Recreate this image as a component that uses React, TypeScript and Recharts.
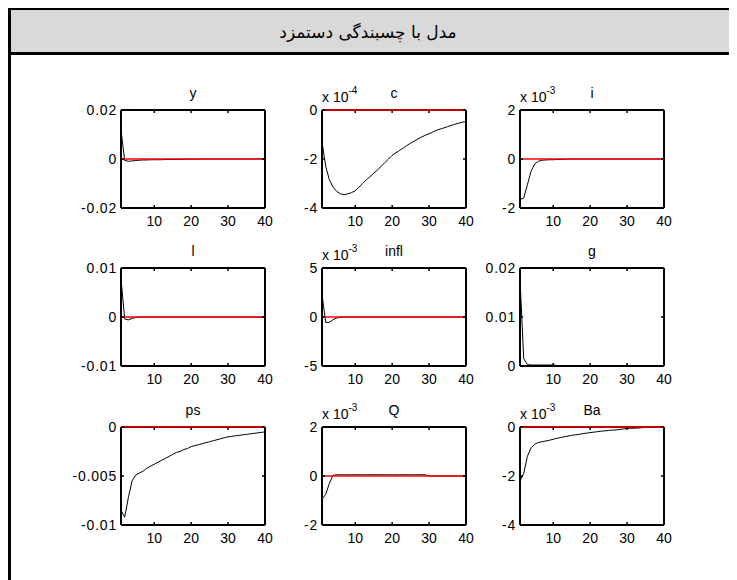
import { Line, LineChart, ReferenceLine, XAxis, YAxis } from "recharts";

const title = "مدل با چسبندگی دستمزد";

const periods = [
  1, 2, 3, 4, 5, 6, 7, 8, 9, 10, 11, 12, 13, 14, 15, 16, 17, 18, 19, 20,
  21, 22, 23, 24, 25, 26, 27, 28, 29, 30, 31, 32, 33, 34, 35, 36, 37, 38, 39, 40
];
const xTicks = [10, 20, 30, 40];

// impulse responses, one value per period
const yResp = [
  0.0118, -0.0006, -0.0009, -0.0008, -0.0006, -0.0005, -0.0004, -0.0004, -0.0003, -0.0003,
  -0.0003, -0.0003, -0.0002, -0.0002, -0.0002, -0.0002, -0.0002, -0.0001, -0.0001, -0.0001,
  -0.0001, 0, 0, 0, 0, 0, 0, 0, 0, 0,
  0, 0, 0, 0, 0, 0, 0, 0, 0, 0
];
const cResp = [
  -1.3e-4, -2.3e-4, -2.85e-4, -3.15e-4, -3.32e-4, -3.42e-4, -3.46e-4, -3.42e-4, -3.37e-4, -3.3e-4,
  -3.15e-4, -3.0e-4, -2.85e-4, -2.72e-4, -2.58e-4, -2.45e-4, -2.3e-4, -2.15e-4, -2.0e-4, -1.85e-4,
  -1.75e-4, -1.65e-4, -1.55e-4, -1.45e-4, -1.35e-4, -1.27e-4, -1.18e-4, -1.1e-4, -1.03e-4, -0.97e-4,
  -0.9e-4, -0.83e-4, -0.78e-4, -0.73e-4, -0.68e-4, -0.63e-4, -0.58e-4, -0.54e-4, -0.5e-4, -0.47e-4
];
const iResp = [
  -1.65e-3, -1.6e-3, -1.05e-3, -0.5e-3, -0.2e-3, -0.09e-3, -0.05e-3, -0.04e-3, -0.03e-3, -0.03e-3,
  -0.02e-3, -0.02e-3, -0.01e-3, 0, 0, 0, 0, 0, 0, 0,
  0, 0, 0, 0, 0, 0, 0, 0, 0, 0,
  0, 0, 0, 0, 0, 0, 0, 0, 0, 0
];
const lResp = [
  0.0078, -0.0004, -0.0006, -0.0003, -0.0001, 0, 0, 0, 0, 0,
  0, 0, 0, 0, 0, 0, 0, 0, 0, 0,
  0, 0, 0, 0, 0, 0, 0, 0, 0, 0,
  0, 0, 0, 0, 0, 0, 0, 0, 0, 0
];
const inflResp = [
  2.3e-3, -0.55e-3, -0.55e-3, -0.27e-3, -0.1e-3, -0.03e-3, 0, 0, 0, 0,
  0, 0, 0, 0, 0, 0, 0, 0, 0, 0,
  0, 0, 0, 0, 0, 0, 0, 0, 0, 0,
  0, 0, 0, 0, 0, 0, 0, 0, 0, 0
];
const gResp = [
  0.0178, 0.0015, 0.0003, 0.0002, 0.0002, 0.0002, 0.0002, 0.0002, 0.0002, 0.0002,
  0.0001, 0.0001, 0.0001, 0.0001, 0.0001, 0, 0, 0, 0, 0,
  0, 0, 0, 0, 0, 0, 0, 0, 0, 0,
  0, 0, 0, 0, 0, 0, 0, 0, 0, 0
];
const psResp = [
  -0.0085, -0.0092, -0.0072, -0.0055, -0.0049, -0.0047, -0.0045, -0.0042, -0.004, -0.0038,
  -0.0036, -0.0034, -0.0032, -0.003, -0.0028, -0.0026, -0.0025, -0.0023, -0.0022, -0.002,
  -0.0019, -0.0018, -0.0017, -0.0016, -0.0015, -0.0014, -0.0013, -0.0012, -0.0011, -0.001,
  -0.00095, -0.0009, -0.00085, -0.0008, -0.00075, -0.0007, -0.00065, -0.0006, -0.00055, -0.0005
];
const qResp = [
  -0.95e-3, -0.75e-3, -0.3e-3, 0.03e-3, 0.05e-3, 0.05e-3, 0.05e-3, 0.05e-3, 0.05e-3, 0.05e-3,
  0.05e-3, 0.05e-3, 0.05e-3, 0.05e-3, 0.05e-3, 0.05e-3, 0.05e-3, 0.05e-3, 0.05e-3, 0.05e-3,
  0.05e-3, 0.05e-3, 0.05e-3, 0.05e-3, 0.05e-3, 0.05e-3, 0.05e-3, 0.05e-3, 0.05e-3, 0,
  0, 0, 0, 0, 0, 0, 0, 0, 0, 0
];
const baResp = [
  -2.2e-3, -1.9e-3, -1.2e-3, -0.85e-3, -0.7e-3, -0.63e-3, -0.6e-3, -0.57e-3, -0.54e-3, -0.5e-3,
  -0.46e-3, -0.43e-3, -0.4e-3, -0.37e-3, -0.34e-3, -0.32e-3, -0.3e-3, -0.27e-3, -0.25e-3, -0.23e-3,
  -0.21e-3, -0.19e-3, -0.17e-3, -0.16e-3, -0.14e-3, -0.13e-3, -0.12e-3, -0.1e-3, -0.08e-3, -0.06e-3,
  -0.05e-3, -0.05e-3, -0.04e-3, -0.03e-3, -0.02e-3, -0.02e-3, -0.01e-3, -0.01e-3, -0.01e-3, -0.01e-3
];

// y tick values per panel
const yTicksY = [-0.02, 0, 0.02];
const yTicksC = [-4e-4, -2e-4, 0];
const yTicksI = [-2e-3, 0, 2e-3];
const yTicksL = [-0.01, 0, 0.01];
const yTicksInfl = [-5e-3, 0, 5e-3];
const yTicksG = [0, 0.01, 0.02];
const yTicksPs = [-0.01, -0.005, 0];
const yTicksQ = [-2e-3, 0, 2e-3];
const yTicksBa = [-4e-3, -2e-3, 0];

const panels = [
  { name: "y", values: yResp, ticks: yTicksY, exp: 0 },
  { name: "c", values: cResp, ticks: yTicksC, exp: -4 },
  { name: "i", values: iResp, ticks: yTicksI, exp: -3 },
  { name: "l", values: lResp, ticks: yTicksL, exp: 0 },
  { name: "infl", values: inflResp, ticks: yTicksInfl, exp: -3 },
  { name: "g", values: gResp, ticks: yTicksG, exp: 0 },
  { name: "ps", values: psResp, ticks: yTicksPs, exp: 0 },
  { name: "Q", values: qResp, ticks: yTicksQ, exp: -3 },
  { name: "Ba", values: baResp, ticks: yTicksBa, exp: -3 }
];

const FONT = "'Liberation Sans', Arial, sans-serif";
const PLOT_W = 144;
const PLOT_H = 98;
const LEFT = 48;
const TOP = 30;
const RIGHT = 12;
const colX = [62, 263, 461];
const rowY = [70, 228, 387];

function fmt(v: number, exp: number) {
  if (exp === 0) return String(v);
  return String(Math.round(v / Math.pow(10, exp)));
}

function Panel({ p, left, top }: { p: (typeof panels)[number]; left: number; top: number }) {
  const data = periods.map((t, k) => ({ t, v: p.values[k] }));
  const lo = p.ticks[0];
  const hi = p.ticks[p.ticks.length - 1];
  const w = LEFT + PLOT_W + RIGHT;
  const h = TOP + PLOT_H + 22;
  return (
    <div style={{ position: "absolute", left, top, width: w, height: h }}>
      <LineChart width={w} height={h} data={data} margin={{ top: TOP, right: RIGHT, bottom: 0, left: 0 }}>
        <XAxis
          dataKey="t"
          type="number"
          domain={[1, 40]}
          ticks={xTicks}
          interval={0}
          height={22}
          tickSize={0}
          tickMargin={0}
          tickLine={false}
          axisLine={{ stroke: "#000", strokeWidth: 2 }}
          tick={(t: any) => (
            <g>
              {/* inward ticks on bottom and top edges of the box */}
              <line x1={t.x} x2={t.x} y1={t.y} y2={t.y - 3} stroke="#000" strokeWidth={1.5} />
              <line x1={t.x} x2={t.x} y1={t.y - PLOT_H} y2={t.y - PLOT_H + 3} stroke="#000" strokeWidth={1.5} />
              <text x={t.x} y={t.y + 18} textAnchor="middle" fontSize={14} fontFamily={FONT} fill="#000">
                {t.payload.value}
              </text>
            </g>
          )}
        />
        <YAxis
          type="number"
          domain={[lo, hi]}
          ticks={p.ticks}
          interval={0}
          allowDataOverflow
          width={LEFT}
          tickSize={0}
          tickMargin={0}
          tickLine={false}
          axisLine={{ stroke: "#000", strokeWidth: 2 }}
          tick={(t: any) => (
            <g>
              <line x1={t.x} x2={t.x + 3} y1={t.y} y2={t.y} stroke="#000" strokeWidth={1.5} />
              <line x1={t.x + PLOT_W} x2={t.x + PLOT_W - 3} y1={t.y} y2={t.y} stroke="#000" strokeWidth={1.5} />
              <text
                x={t.x - 4}
                y={t.y + 5}
                textAnchor="end"
                fontSize={14}
                letterSpacing={0.8}
                fontFamily={FONT}
                fill="#000"
              >
                {fmt(t.payload.value, p.exp)}
              </text>
            </g>
          )}
        />
        {/* top and right edges of the box */}
        <ReferenceLine y={hi} stroke="#000" strokeWidth={2} />
        <ReferenceLine x={40} stroke="#000" strokeWidth={2} />
        <Line
          type="linear"
          dataKey="v"
          stroke="#000"
          strokeWidth={1}
          dot={false}
          isAnimationActive={false}
        />
        <ReferenceLine y={0} stroke="#ff0000" strokeWidth={1.5} />
      </LineChart>
      <div
        style={{
          position: "absolute",
          left: LEFT,
          width: PLOT_W,
          top: 5,
          textAlign: "center",
          fontFamily: FONT,
          fontSize: 14,
          lineHeight: "16px"
        }}
      >
        {p.name}
      </div>
      {p.exp !== 0 && (
        <div
          style={{
            position: "absolute",
            left: LEFT,
            top: 9,
            fontFamily: FONT,
            fontSize: 14,
            lineHeight: "16px",
            whiteSpace: "nowrap"
          }}
        >
          x 10<sup style={{ fontSize: 10, verticalAlign: "8px", lineHeight: 0 }}>{p.exp}</sup>
        </div>
      )}
    </div>
  );
}

export default function App() {
  return (
    <div style={{ position: "relative", top: -1, width: 729, height: 573, overflow: "hidden" }}>
      <div
        style={{
          position: "absolute",
          left: 0,
          top: 0,
          width: 760,
          height: 620,
          border: "3px solid #000",
          background: "#fff"
        }}
      >
        <div style={{ height: 42, width: 760, background: "#d9d9d9", borderBottom: "3px solid #000" }}>
          <div
            dir="rtl"
            style={{
              width: 714,
              textAlign: "center",
              fontFamily: "'DejaVu Sans', sans-serif",
              fontSize: 17,
              lineHeight: "44px"
            }}
          >
            {title}
          </div>
        </div>
        {panels.map((p, k) => (
          <Panel key={p.name} p={p} left={colX[k % 3]} top={rowY[Math.floor(k / 3)]} />
        ))}
      </div>
    </div>
  );
}
